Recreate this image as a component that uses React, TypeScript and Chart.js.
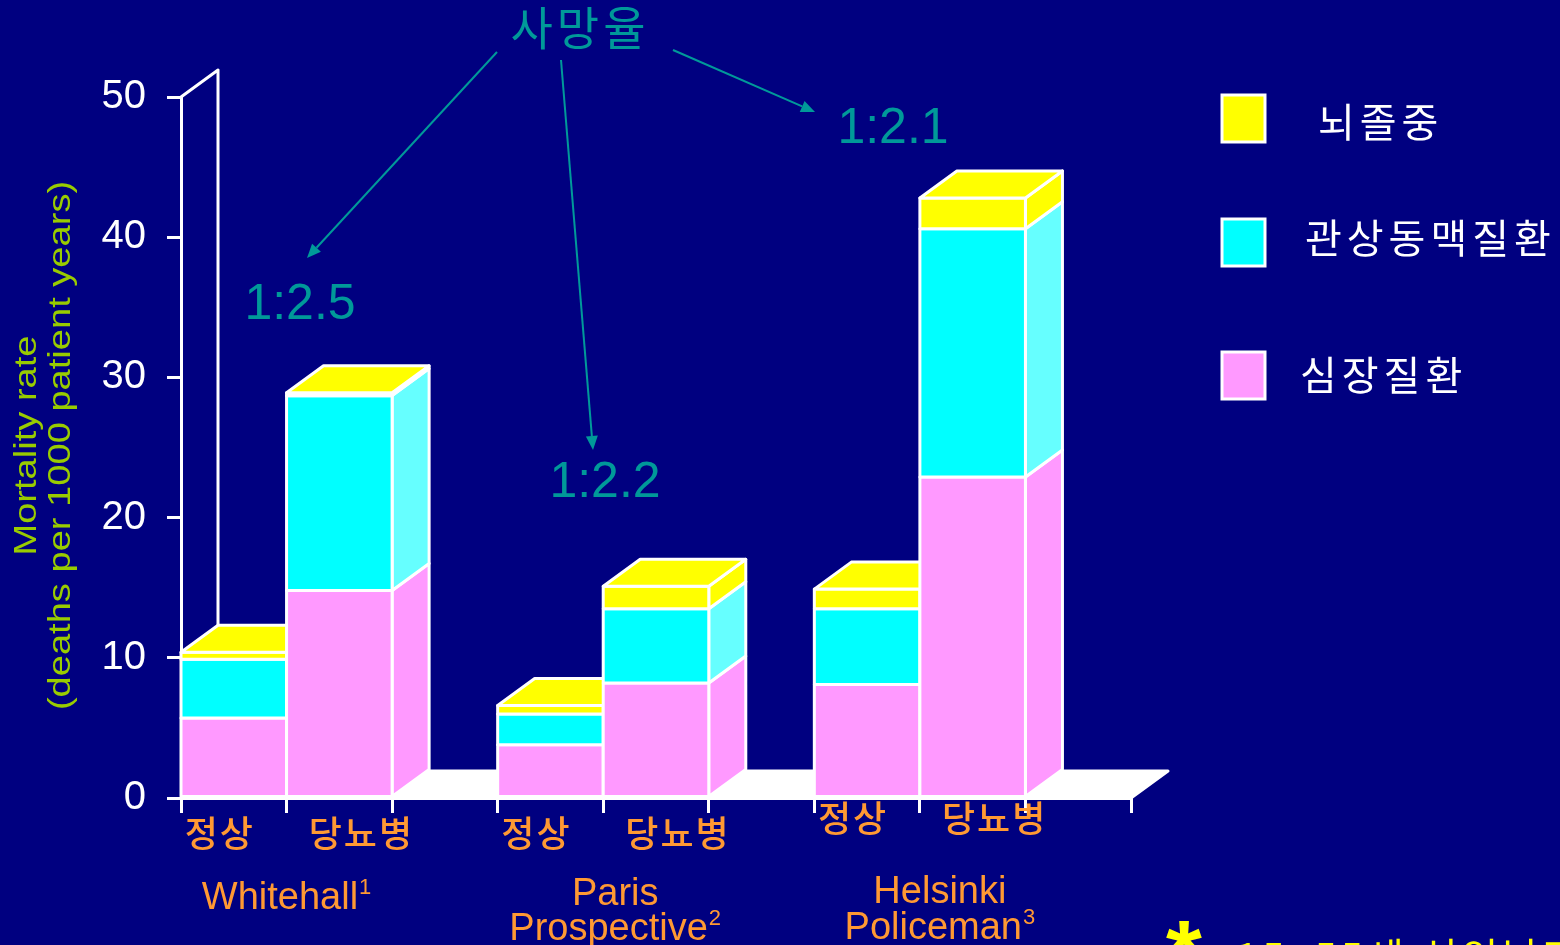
import React, { useEffect, useRef } from 'react';
import { Chart, registerables } from 'chart.js';

Chart.register(...registerables);

// ---------- data ----------
const categories = ['정상', '당뇨병', '', '정상', '당뇨병', '', '정상', '당뇨병', ''];
const studyNames = [['Whitehall'], ['Paris', 'Prospective'], ['Helsinki', 'Policeman']];
const studyRefs = ['1', '2', '3'];
const heartDisease = [5.7, 14.8, null, 3.8, 8.2, null, 8.1, 22.9, null];
const coronaryDisease = [4.2, 13.9, null, 2.2, 5.3, null, 5.4, 17.7, null];
const strokeDeaths = [0.5, 0.2, null, 0.6, 1.6, null, 1.4, 2.2, null];
const seriesNames = ['심장질환', '관상동맥질환', '뇌졸중'];
const ratioLabels = ['1:2.5', '1:2.2', '1:2.1'];
const yTickValues = [0, 10, 20, 30, 40, 50];
const yTitle = ['Mortality rate', '(deaths per 1000 patient years)'];
const annotationTitle = '사망율';
const footnote = '15~55세 성인남자';

// ---------- style ----------
const BG = '#000080';
const TEAL = '#009999';
const ORANGE = '#FF9933';
const GREEN = '#99CC00';
const DX = 37;
const DY = -27;
const SANS = '"Liberation Sans", Arial, sans-serif';
const KR = '"Noto Sans CJK KR", "Noto Sans", sans-serif';

function poly(ctx: CanvasRenderingContext2D, pts: number[][], fill: string) {
  ctx.beginPath();
  ctx.moveTo(pts[0][0], pts[0][1]);
  for (let i = 1; i < pts.length; i++) ctx.lineTo(pts[i][0], pts[i][1]);
  ctx.closePath();
  ctx.fillStyle = fill;
  ctx.fill();
  ctx.stroke();
}

function arrow(ctx: CanvasRenderingContext2D, x1: number, y1: number, x2: number, y2: number) {
  const a = Math.atan2(y2 - y1, x2 - x1);
  const hl = 14, hw = 6;
  const bx = x2 - hl * Math.cos(a), by = y2 - hl * Math.sin(a);
  ctx.beginPath();
  ctx.moveTo(x1, y1);
  ctx.lineTo(bx, by);
  ctx.stroke();
  ctx.beginPath();
  ctx.moveTo(x2, y2);
  ctx.lineTo(bx + hw * Math.sin(a), by - hw * Math.cos(a));
  ctx.lineTo(bx - hw * Math.sin(a), by + hw * Math.cos(a));
  ctx.closePath();
  ctx.fill();
}

function spaced(ctx: any, px: number) {
  if ('letterSpacing' in ctx) ctx.letterSpacing = `${px}px`;
}

const threeD = {
  id: 'threeD',
  beforeDraw(chart: any) {
    const { ctx, width, height } = chart;
    ctx.save();
    ctx.fillStyle = BG;
    ctx.fillRect(0, 0, width, height);
    ctx.restore();
  },
  beforeDatasetDraw() {
    return false;
  },
  beforeDatasetsDraw(chart: any) {
    const { ctx, chartArea } = chart;
    const { left, right, top, bottom } = chartArea;
    ctx.save();
    ctx.strokeStyle = '#fff';
    ctx.lineWidth = 3;
    ctx.lineJoin = 'round';
    poly(ctx, [[left, bottom], [left + DX, bottom + DY], [right + DX, bottom + DY], [right, bottom]], '#fff');
    ctx.beginPath();
    ctx.moveTo(left, top);
    ctx.lineTo(left + DX, top + DY);
    ctx.lineTo(left + DX, bottom + DY);
    ctx.stroke();
    ctx.restore();
  },
  afterDatasetsDraw(chart: any) {
    const { ctx } = chart;
    const n = chart.data.labels.length;
    ctx.save();
    ctx.strokeStyle = '#fff';
    ctx.lineWidth = 3;
    ctx.lineJoin = 'round';
    for (let j = 0; j < n; j++) {
      const segs: any[] = [];
      chart.data.datasets.forEach((ds: any, i: number) => {
        const v = ds.data[j];
        if (v == null) return;
        const el = chart.getDatasetMeta(i).data[j];
        const p = el.getProps(['x', 'y', 'base', 'width'], true);
        segs.push({ ...p, face: ds.backgroundColor, side: ds.sideColor });
      });
      if (!segs.length) continue;
      for (const s of segs) {
        const r = s.x + s.width / 2;
        const t = Math.min(s.y, s.base), b = Math.max(s.y, s.base);
        poly(ctx, [[r, t], [r + DX, t + DY], [r + DX, b + DY], [r, b]], s.side);
      }
      for (const s of segs) {
        const l = s.x - s.width / 2;
        const t = Math.min(s.y, s.base), b = Math.max(s.y, s.base);
        ctx.fillStyle = s.face;
        ctx.fillRect(l, t, s.width, b - t);
        ctx.strokeRect(l, t, s.width, b - t);
      }
      const last = segs[segs.length - 1];
      const l = last.x - last.width / 2, r = last.x + last.width / 2;
      const t = Math.min(last.y, last.base);
      poly(ctx, [[l, t], [l + DX, t + DY], [r + DX, t + DY], [r, t]], last.face);
    }
    ctx.restore();
  },
  afterDraw(chart: any) {
    const { ctx, chartArea } = chart;
    const xs = chart.scales.x;
    ctx.save();

    // y-axis title (wide, squat lettering)
    ctx.fillStyle = GREEN;
    ctx.font = `32px ${SANS}`;
    ctx.textAlign = 'center';
    ctx.textBaseline = 'alphabetic';
    ctx.translate(36, (chartArea.top + chartArea.bottom) / 2 - 2);
    ctx.rotate(-Math.PI / 2);
    ctx.scale(1.19, 1);
    yTitle.forEach((line, i) => ctx.fillText(line, 0, i * 34));
    ctx.setTransform(1, 0, 0, 1, 0, 0);

    // category labels
    ctx.fillStyle = ORANGE;
    ctx.font = `500 36px ${KR}`;
    spaced(ctx, 2);
    ctx.textAlign = 'center';
    ctx.textBaseline = 'middle';
    categories.forEach((c, j) => {
      if (!c) return;
      const g = Math.floor(j / 3);
      const off = j % 3 === 0 ? -14 : 22;
      const y = g === 2 ? 818 : 833;
      ctx.fillText(c, xs.getPixelForValue(j) + off, y);
    });
    spaced(ctx, 0);

    // study labels
    const baselines = [[909], [905, 940], [903, 939]];
    const gOff = [0, 12, 20];
    studyNames.forEach((lines, g) => {
      const cx = (xs.getPixelForValue(3 * g) + xs.getPixelForValue(3 * g + 1)) / 2 + gOff[g];
      lines.forEach((line, k) => {
        const yb = baselines[g][k];
        ctx.textBaseline = 'alphabetic';
        ctx.textAlign = 'left';
        ctx.font = `38px ${SANS}`;
        const w = ctx.measureText(line).width;
        const isLast = k === lines.length - 1;
        ctx.font = `22px ${SANS}`;
        const ws = isLast ? ctx.measureText(studyRefs[g]).width + 1 : 0;
        const x0 = cx - (w + ws) / 2;
        ctx.font = `38px ${SANS}`;
        ctx.fillText(line, x0, yb);
        if (isLast) {
          ctx.font = `22px ${SANS}`;
          ctx.fillText(studyRefs[g], x0 + w + 1, yb - 15);
        }
      });
    });

    // annotations
    ctx.fillStyle = TEAL;
    ctx.strokeStyle = TEAL;
    ctx.lineWidth = 2;
    ctx.textAlign = 'center';
    ctx.textBaseline = 'middle';
    ctx.font = `46px ${KR}`;
    spaced(ctx, 4);
    ctx.fillText(annotationTitle, 580, 28);
    spaced(ctx, 0);
    ctx.font = `50px ${SANS}`;
    const ratioPos = [[300, 305], [605, 483], [893, 129]];
    ratioLabels.forEach((t, i) => ctx.fillText(t, ratioPos[i][0], ratioPos[i][1]));
    arrow(ctx, 497, 52, 307, 258);
    arrow(ctx, 561, 60, 593, 450);
    arrow(ctx, 673, 50, 815, 112);

    // legend
    const sqY = [95, 219, 352];
    const txX = [1318, 1305, 1300];
    const txY = [122, 238, 375];
    const ds = chart.data.datasets;
    for (let k = 0; k < ds.length; k++) {
      const d = ds[ds.length - 1 - k];
      ctx.fillStyle = d.backgroundColor;
      ctx.fillRect(1222, sqY[k], 43, 47);
      ctx.strokeStyle = '#fff';
      ctx.lineWidth = 3;
      ctx.strokeRect(1222, sqY[k], 43, 47);
      ctx.fillStyle = '#fff';
      ctx.font = `40px ${KR}`;
      spaced(ctx, 5);
      ctx.textAlign = 'left';
      ctx.textBaseline = 'middle';
      ctx.fillText(d.label, txX[k], txY[k]);
      spaced(ctx, 0);
    }

    // footnote (cut off at bottom)
    ctx.fillStyle = '#FFFF00';
    ctx.textAlign = 'left';
    ctx.textBaseline = 'alphabetic';
    ctx.font = `bold 92px ${SANS}`;
    ctx.fillText('*', 1166, 985);
    ctx.font = `40px ${KR}`;
    spaced(ctx, 4);
    ctx.fillText(footnote, 1236, 972);
    spaced(ctx, 0);

    ctx.restore();
  },
};

export default function App() {
  const ref = useRef<HTMLCanvasElement | null>(null);
  useEffect(() => {
    if (!ref.current) return;
    const chart = new Chart(ref.current, {
      type: 'bar',
      data: {
        labels: categories,
        datasets: [
          { label: seriesNames[0], data: heartDisease, backgroundColor: '#FF99FF', sideColor: '#FF99FF' } as any,
          { label: seriesNames[1], data: coronaryDisease, backgroundColor: '#00FFFF', sideColor: '#66FFFF' } as any,
          { label: seriesNames[2], data: strokeDeaths, backgroundColor: '#FFFF00', sideColor: '#FFFF00' } as any,
        ],
      },
      options: {
        responsive: false,
        animation: false,
        devicePixelRatio: 1,
        layout: { padding: { left: 0, top: 97, right: 429, bottom: 0 } },
        datasets: { bar: { barPercentage: 1, categoryPercentage: 1 } },
        plugins: { legend: { display: false }, tooltip: { enabled: false }, title: { display: false } },
        events: [],
        scales: {
          x: {
            stacked: true,
            afterFit: (s: any) => { s.height = 147; },
            ticks: { display: false },
            grid: { drawOnChartArea: false, drawTicks: true, tickLength: 15, color: '#fff', lineWidth: 3, offset: true },
            border: { display: true, color: '#fff', width: 3 },
          },
          y: {
            stacked: true,
            min: 0,
            max: 50,
            afterFit: (s: any) => { s.width = 181; },
            afterBuildTicks: (s: any) => { s.ticks = yTickValues.map((v) => ({ value: v })); },
            ticks: { color: '#fff', padding: 21, font: { family: SANS, size: 40 } },
            grid: { drawOnChartArea: false, drawTicks: true, tickLength: 14, color: '#fff', lineWidth: 3 },
            border: { display: true, color: '#fff', width: 3 },
          },
        },
      } as any,
      plugins: [threeD as any],
    });
    return () => chart.destroy();
  }, []);
  return (
    <div style={{ position: 'absolute', left: 0, top: 0, width: 1560, height: 945, background: BG, overflow: 'hidden' }}>
      <canvas ref={ref} width={1560} height={945} style={{ display: 'block' }} />
    </div>
  );
}
